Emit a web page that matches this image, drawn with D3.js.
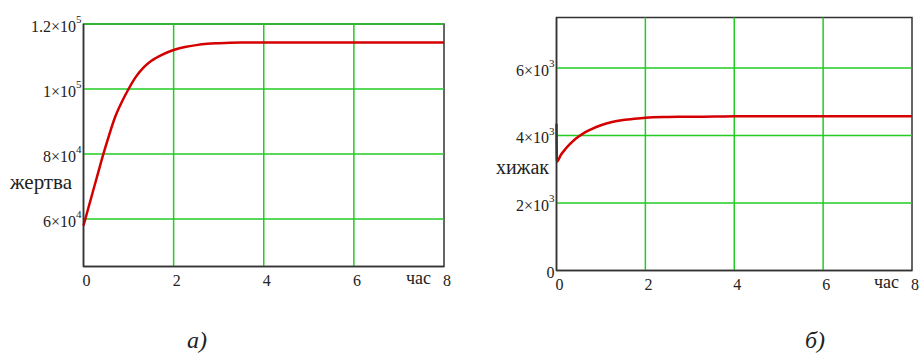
<!DOCTYPE html>
<html><head><meta charset="utf-8">
<script src="https://cdn.jsdelivr.net/npm/d3@7"></script>
<style>
html,body{margin:0;padding:0;background:#fff;}
svg{display:block;}
svg text{font-family:"Liberation Serif","Times New Roman",serif;}
</style></head>
<body>
<svg id="c" width="921" height="355"></svg>
<script>
// ---- data ----
const xTicks = [0, 2, 4, 6, 8];
const preyT = [0, 0.1, 0.2, 0.3, 0.44, 0.55, 0.7, 0.85, 1.0, 1.15, 1.33, 1.5, 1.75, 2.0, 2.25, 2.5, 2.75, 3.0, 3.25, 3.5, 4, 5, 6, 7, 8];
const preyV = [58000, 63000, 68000, 73000, 80000, 85000, 91300, 96000, 100000, 103500, 106600, 108600, 110600, 112000, 112900, 113500, 113900, 114100, 114250, 114300, 114300, 114300, 114300, 114300, 114300];
const preyTicks = [60000, 80000, 100000, 120000];
const preyTickMant = ["6", "8", "1", "1.2"];
const preyTickExp = ["4", "4", "5", "5"];
const predT = [0, 0.01, 0.1, 0.2, 0.3, 0.4, 0.5, 0.65, 0.8, 1.0, 1.25, 1.5, 1.75, 2.0, 2.5, 3.0, 3.6, 4, 5, 6, 7, 8];
const predV = [4350, 3230, 3430, 3600, 3745, 3870, 3970, 4100, 4200, 4305, 4400, 4460, 4500, 4530, 4550, 4558, 4562, 4570, 4570, 4570, 4570, 4570];
const predTicks = [2000, 4000, 6000];
const predTickMant = ["2", "4", "6"];
const predTickExp = ["3", "3", "3"];
const labels = {preyY: "жертва", predY: "хижак", x: "час", capA: "а)", capB: "б)"};

const svg = d3.select("#c");
const GREEN = "#22cc22", AXIS = "#333", RED = "#d40000", TXT = "#222";

function panel(o) {
  const g = svg.append("g");
  const x = d3.scaleLinear().domain([0, 8]).range([o.x0, o.x1]);
  const y = d3.scaleLinear().domain(o.yDom).range([o.y1, o.y0]);
  g.append("rect").attr("x", o.x0).attr("y", o.y0).attr("width", o.x1 - o.x0).attr("height", o.y1 - o.y0)
    .attr("fill", "none").attr("stroke", AXIS).attr("stroke-width", 1.5);
  g.selectAll(".vg").data(xTicks.filter(t => t > 0 && t < 8)).enter().append("line")
    .attr("x1", d => x(d)).attr("x2", d => x(d)).attr("y1", o.y0).attr("y2", o.y1)
    .attr("stroke", GREEN).attr("stroke-width", 1.5);
  g.selectAll(".hg").data(o.ticks).enter().append("line")
    .attr("x1", o.x0).attr("x2", o.x1).attr("y1", d => y(d)).attr("y2", d => y(d))
    .attr("stroke", GREEN).attr("stroke-width", 1.5);
  g.append("path").datum(o.t.map((t, i) => [t, o.v[i]]))
    .attr("d", d3.line().x(d => x(d[0])).y(d => y(d[1])).curve(d3.curveMonotoneX))
    .attr("fill", "none").attr("stroke", RED).attr("stroke-width", 2.5);
  g.append("line").attr("x1", o.x0).attr("x2", o.x0).attr("y1", o.y0).attr("y2", o.y1)
    .attr("stroke", AXIS).attr("stroke-width", 1.5);
  g.append("line").attr("x1", o.x0).attr("x2", o.x1).attr("y1", o.y1).attr("y2", o.y1)
    .attr("stroke", AXIS).attr("stroke-width", 1.5);
  o.ticks.forEach((v, i) => {
    const t = g.append("text").attr("x", o.x0 - 2).attr("y", y(v) + 7.5)
      .attr("text-anchor", "end").attr("font-size", 16).attr("fill", TXT);
    t.append("tspan").text(o.mant[i] + "×10");
    t.append("tspan").attr("dy", -8.5).attr("font-size", 11).text(o.exp[i]);
  });
  if (o.zeroLabel) {
    g.append("text").attr("x", o.x0 - 2).attr("y", y(0) + 7).attr("text-anchor", "end")
      .attr("font-size", 16).attr("fill", TXT).text("0");
  }
  g.selectAll(".xt").data(xTicks).enter().append("text")
    .attr("x", d => x(d) + 3).attr("y", o.y1 + 19).attr("text-anchor", "middle")
    .attr("font-size", 16).attr("fill", TXT).text(d => d);
  g.append("text").attr("x", o.xLabX).attr("y", o.y1 + 17).attr("text-anchor", "end")
    .attr("font-size", 18).attr("fill", TXT).text(labels.x);
  g.append("text").attr("x", o.yLabX).attr("y", o.yLabY).attr("text-anchor", "end")
    .attr("font-size", o.yLabSize).attr("fill", TXT).text(o.yLabel);
  g.append("text").attr("x", o.capX).attr("y", 348).attr("font-size", 24)
    .attr("font-style", "italic").attr("fill", TXT).text(o.cap);
}

panel({x0: 83.5, x1: 444, y0: 24, y1: 266.5, yDom: [45400, 120000], ticks: preyTicks,
  mant: preyTickMant, exp: preyTickExp, t: preyT, v: preyV, yLabel: labels.preyY, yLabSize: 21,
  yLabX: 72, yLabY: 189, xLabX: 431, capX: 187, cap: labels.capA, zeroLabel: false});
panel({x0: 556.5, x1: 912, y0: 17.5, y1: 270.5, yDom: [0, 7500], ticks: predTicks,
  mant: predTickMant, exp: predTickExp, t: predT, v: predV, yLabel: labels.predY, yLabSize: 20,
  yLabX: 549, yLabY: 174, xLabX: 899, capX: 805, cap: labels.capB, zeroLabel: true});
</script>
</body></html>
